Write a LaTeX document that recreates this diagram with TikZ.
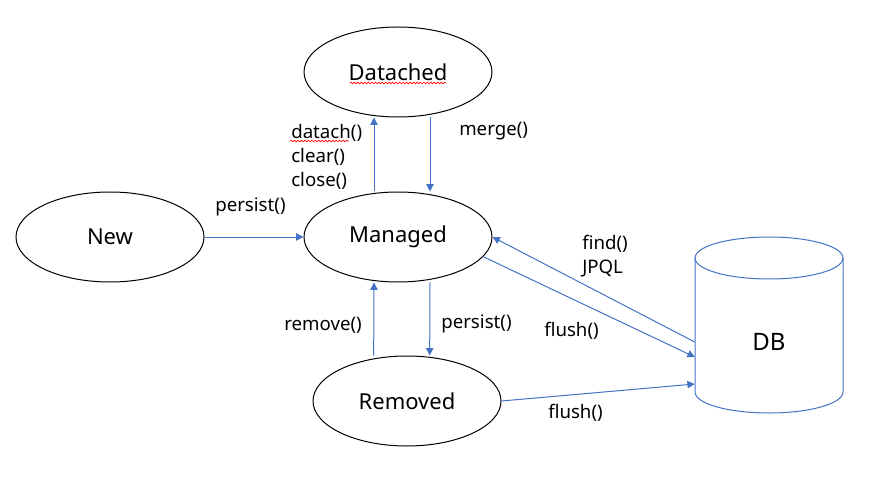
\documentclass[tikz,border=0pt]{standalone}
\usepackage{fontspec}
\setmainfont{Noto Sans}
\usetikzlibrary{shapes.geometric,arrows.meta,decorations.pathmorphing}
\definecolor{lineblue}{RGB}{68,114,196}
\begin{document}
\begin{tikzpicture}[x=0.75pt,y=0.75pt,yscale=-1,xscale=1,
	state/.style={ellipse,draw,line width=0.75pt,minimum width=141pt,minimum height=67.5pt,inner sep=0pt,font=\fontsize{16.5}{19}\selectfont},
	lbl/.style={anchor=west,inner sep=0.75pt,font=\fontsize{14}{18}\selectfont},
	flow/.style={draw=lineblue,line width=0.75pt,-{Triangle[length=5.5pt,width=5.5pt]}},
	typo/.style={draw=red,line width=0.5pt,decorate,decoration={snake,amplitude=0.6pt,segment length=2.6pt}}]
\useasboundingbox (0,0) rectangle (873,477);

%Shape: Ellipse
\node[state] (datached) at (398,72) {Datached};
%Shape: Ellipse
\node[state] (new) at (110,237) {New};
%Shape: Ellipse
\node[state] (managed) at (398,237) {Managed};
%Shape: Ellipse
\node[state] (removed) at (407,401) {Removed};

%Shape: Can
\draw[lineblue,line width=0.75pt] (695,258) -- (695,392) arc[start angle=180,end angle=0,x radius=74,y radius=21] -- (843,258);
\draw[lineblue,line width=0.75pt] (769,258) ellipse [x radius=74,y radius=21];
\node[minimum width=111pt,inner sep=0pt,font=\fontsize{18}{21}\selectfont] (db) at (769,342) {DB};

% Connectors
\draw[flow] (new) -- (managed);
\draw[flow] ([xshift=-18pt]managed.north) -- ([xshift=-18pt]datached.south);
\draw[flow] ([xshift=24pt]datached.south) -- ([xshift=24pt]managed.north);
\draw[flow] ([xshift=24pt]managed.south) -- ([xshift=17pt]removed.north);
\draw[flow] ([xshift=-25pt]removed.north) -- ([xshift=-18pt]managed.south);
\draw[flow] (db.west) -- (managed.east);
\draw[flow] (managed.-13) -- ([yshift=11.25pt]db.west);
\draw[flow] (removed.east) -- ([yshift=31.5pt]db.west);

% Text Node
\node[lbl] (l_persist) at (214,207) {persist()};
\node[lbl,align=left] (l_datach) at (290,157) {datach()\\clear()\\close()};
\node[lbl] (l_merge) at (458,131) {merge()};
\node[lbl,align=left] (l_find) at (581,256) {find()\\JPQL};
\node[lbl] (l_flush) at (543,331) {flush()};
\node[lbl] (l_remove) at (283,325) {remove()};
\node[lbl] (l_persist2) at (440,324) {persist()};
\node[lbl] (l_flush2) at (547,413) {flush()};

% spell marks
\draw[typo] (350,83) -- (446,83);
\draw[typo] (290,141) -- (349,141);

\end{tikzpicture}
\end{document}
